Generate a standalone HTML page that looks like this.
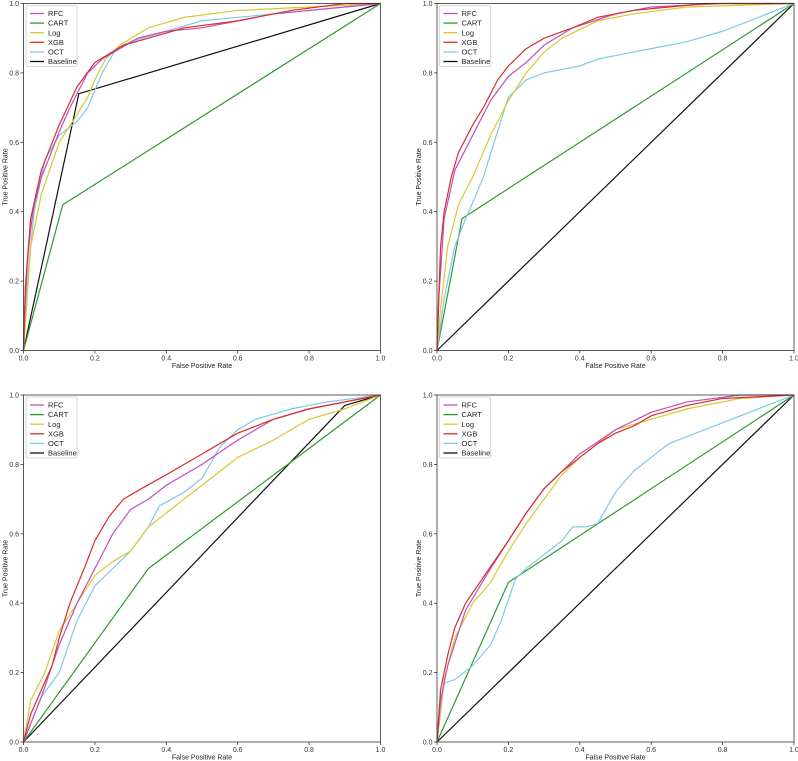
<!DOCTYPE html>
<html><head><meta charset="utf-8"><style>
html,body{margin:0;padding:0;background:#fff;}
svg{display:block;font-family:"Liberation Sans","DejaVu Sans",sans-serif;}
</style></head><body>
<svg id="chart" width="798" height="761" viewBox="0 0 798 761" xmlns="http://www.w3.org/2000/svg"></svg>
<script>
const seriesNames = ["RFC","CART","Log","XGB","OCT","Baseline"];
const seriesColors = ["#c04ec0","#2e9a2e","#d8c830","#d62e2e","#80c8e8","#111111"];
const tickValues = [0,0.2,0.4,0.6,0.8,1.0];
const tickLabels = ["0.0","0.2","0.4","0.6","0.8","1.0"];

// Panel 1 (top-left)
const p1RFC = [[0,0],[0.005,0.15],[0.01,0.25],[0.02,0.35],[0.03,0.42],[0.05,0.5],[0.07,0.55],[0.1,0.63],[0.13,0.7],[0.15,0.74],[0.18,0.8],[0.22,0.84],[0.27,0.87],[0.32,0.9],[0.4,0.92],[0.5,0.93],[0.6,0.95],[0.7,0.97],[0.8,0.98],[0.9,0.99],[1,1]];
const p1CART = [[0,0],[0.11,0.42],[1,1]];
const p1Log = [[0,0],[0.02,0.3],[0.05,0.45],[0.1,0.6],[0.15,0.68],[0.18,0.73],[0.2,0.78],[0.23,0.84],[0.27,0.88],[0.35,0.93],[0.45,0.96],[0.6,0.98],[0.8,0.99],[1,1]];
const p1XGB = [[0,0],[0.005,0.18],[0.02,0.38],[0.05,0.52],[0.1,0.65],[0.15,0.76],[0.2,0.83],[0.28,0.88],[0.35,0.9],[0.45,0.93],[0.6,0.95],[0.75,0.98],[0.9,1],[1,1]];
const p1OCT = [[0,0],[0.01,0.2],[0.03,0.4],[0.06,0.55],[0.1,0.62],[0.15,0.66],[0.18,0.7],[0.22,0.8],[0.26,0.87],[0.3,0.89],[0.4,0.92],[0.5,0.95],[0.7,0.97],[1,1]];
const p1Base = [[0,0],[0.155,0.74],[1,1]];

// Panel 2 (top-right)
const p2RFC = [[0,0],[0.005,0.15],[0.02,0.38],[0.05,0.52],[0.1,0.62],[0.15,0.72],[0.2,0.79],[0.25,0.83],[0.3,0.88],[0.38,0.93],[0.5,0.97],[0.6,0.99],[0.8,1],[1,1]];
const p2CART = [[0,0],[0.07,0.38],[1,1]];
const p2Log = [[0,0],[0.01,0.12],[0.03,0.3],[0.06,0.42],[0.1,0.5],[0.15,0.62],[0.2,0.72],[0.25,0.8],[0.3,0.86],[0.35,0.9],[0.45,0.95],[0.55,0.97],[0.7,0.99],[1,1]];
const p2XGB = [[0,0],[0.005,0.15],[0.01,0.3],[0.02,0.4],[0.04,0.5],[0.06,0.57],[0.1,0.65],[0.13,0.7],[0.17,0.78],[0.2,0.82],[0.25,0.87],[0.3,0.9],[0.38,0.93],[0.45,0.96],[0.55,0.98],[0.65,0.99],[0.75,1],[1,1]];
const p2OCT = [[0,0],[0.02,0.15],[0.05,0.3],[0.08,0.38],[0.11,0.45],[0.13,0.5],[0.16,0.6],[0.2,0.73],[0.25,0.78],[0.3,0.8],[0.4,0.82],[0.45,0.84],[0.5,0.85],[0.6,0.87],[0.7,0.89],[0.8,0.92],[0.9,0.96],[1,1]];
const p2Base = [[0,0],[1,1]];

// Panel 3 (bottom-left)
const p3RFC = [[0,0],[0.05,0.13],[0.1,0.28],[0.15,0.4],[0.2,0.5],[0.25,0.6],[0.3,0.67],[0.35,0.7],[0.4,0.74],[0.5,0.8],[0.6,0.87],[0.7,0.93],[0.8,0.96],[0.9,0.98],[1,1]];
const p3CART = [[0,0],[0.35,0.5],[1,1]];
const p3Log = [[0,0],[0.02,0.12],[0.06,0.2],[0.1,0.32],[0.15,0.4],[0.2,0.48],[0.25,0.52],[0.3,0.55],[0.35,0.62],[0.4,0.66],[0.45,0.7],[0.5,0.74],[0.55,0.78],[0.6,0.82],[0.7,0.87],[0.8,0.93],[0.9,0.96],[1,1]];
const p3XGB = [[0,0],[0.02,0.08],[0.05,0.15],[0.08,0.22],[0.1,0.3],[0.13,0.4],[0.17,0.5],[0.2,0.58],[0.24,0.65],[0.28,0.7],[0.33,0.73],[0.4,0.77],[0.45,0.8],[0.5,0.83],[0.55,0.86],[0.6,0.89],[0.7,0.93],[0.8,0.96],[0.9,0.98],[1,1]];
const p3OCT = [[0,0],[0.05,0.13],[0.1,0.2],[0.15,0.35],[0.2,0.45],[0.25,0.5],[0.3,0.55],[0.35,0.62],[0.38,0.68],[0.45,0.72],[0.5,0.76],[0.55,0.85],[0.6,0.9],[0.65,0.93],[0.75,0.96],[0.85,0.98],[1,1]];
const p3Base = [[0,0],[0.9,0.97],[1,1]];

// Panel 4 (bottom-right)
const p4RFC = [[0,0],[0.01,0.12],[0.03,0.22],[0.08,0.38],[0.15,0.5],[0.2,0.58],[0.25,0.66],[0.3,0.73],[0.4,0.83],[0.5,0.9],[0.6,0.95],[0.7,0.98],[0.85,1],[1,1]];
const p4CART = [[0,0],[0.2,0.46],[1,1]];
const p4Log = [[0,0],[0.02,0.18],[0.05,0.3],[0.1,0.4],[0.15,0.46],[0.2,0.55],[0.25,0.63],[0.3,0.7],[0.35,0.77],[0.4,0.82],[0.5,0.9],[0.6,0.93],[0.7,0.96],[0.85,0.99],[1,1]];
const p4XGB = [[0,0],[0.01,0.15],[0.03,0.25],[0.05,0.33],[0.08,0.4],[0.12,0.46],[0.16,0.52],[0.2,0.58],[0.25,0.66],[0.3,0.73],[0.35,0.78],[0.4,0.82],[0.45,0.86],[0.5,0.89],[0.55,0.91],[0.6,0.94],[0.7,0.97],[0.8,0.99],[1,1]];
const p4OCT = [[0,0],[0.02,0.17],[0.05,0.18],[0.1,0.22],[0.15,0.28],[0.18,0.35],[0.22,0.47],[0.25,0.5],[0.3,0.54],[0.35,0.58],[0.38,0.62],[0.42,0.62],[0.45,0.63],[0.5,0.72],[0.55,0.78],[0.6,0.82],[0.65,0.86],[0.75,0.9],[0.85,0.94],[1,1]];
const p4Base = [[0,0],[1,1]];

const panels = [
  {name:"top-left", x0:23.5, x1:380.5, y0:3.5, y1:350.5, series:[p1RFC,p1CART,p1Log,p1XGB,p1OCT,p1Base]},
  {name:"top-right", x0:437, x1:794, y0:3.5, y1:350.5, series:[p2RFC,p2CART,p2Log,p2XGB,p2OCT,p2Base]},
  {name:"bottom-left", x0:23.5, x1:380.5, y0:395, y1:742, series:[p3RFC,p3CART,p3Log,p3XGB,p3OCT,p3Base]},
  {name:"bottom-right", x0:437, x1:794, y0:395, y1:742, series:[p4RFC,p4CART,p4Log,p4XGB,p4OCT,p4Base]}
];
const drawOrder = [5,1,4,2,0,3];
const svg = document.getElementById('chart');
const NS = "http://www.w3.org/2000/svg";
function mk(tag, attrs, parent){
  const e = document.createElementNS(NS, tag);
  for (const k in attrs) e.setAttribute(k, attrs[k]);
  parent.appendChild(e);
  return e;
}
panels.forEach(p => {
  const g = mk('g', {}, svg);
  
  
  const sx = v => p.x0 + v * (p.x1 - p.x0);
  const sy = v => p.y1 - v * (p.y1 - p.y0);
  drawOrder.forEach(i => {
    const pts = p.series[i].map(d => sx(d[0]).toFixed(2) + ',' + sy(d[1]).toFixed(2)).join(' ');
    const pl = mk('polyline', {points: pts, fill: 'none', stroke: seriesColors[i], 'stroke-width': 1.2, 'stroke-linejoin': 'round'}, g);
    
    
  });
  const frame = mk('rect', {x: p.x0, y: p.y0, width: p.x1 - p.x0, height: p.y1 - p.y0, fill: 'none', stroke: '#333', 'stroke-width': 0.8}, g);
  
  
  tickValues.forEach((t, k) => {
    const x = sx(t), y = sy(t);
    mk('line', {x1: x, x2: x, y1: p.y1, y2: p.y1 + 3, stroke: '#333', 'stroke-width': 0.8}, g);
    const tx = mk('text', {x: x, y: p.y1 + 10, 'font-size': 7, 'text-anchor': 'middle', fill: '#333'}, g);
    tx.textContent = tickLabels[k];
    
    
    mk('line', {x1: p.x0 - 3, x2: p.x0, y1: y, y2: y, stroke: '#333', 'stroke-width': 0.8}, g);
    const ty = mk('text', {x: p.x0 - 4.5, y: y + 2.5, 'font-size': 7, 'text-anchor': 'end', fill: '#333'}, g);
    ty.textContent = tickLabels[k];
    
    
  });
  const xl = mk('text', {x: (p.x0 + p.x1) / 2, y: p.y1 + 17.5, 'font-size': 7, 'text-anchor': 'middle', fill: '#222'}, g);
  xl.textContent = 'False Positive Rate';
  
  
  const cy = (p.y0 + p.y1) / 2, cx = p.x0 - 16;
  const yl = mk('text', {x: cx, y: cy, 'font-size': 7, 'text-anchor': 'middle', fill: '#222', transform: 'rotate(-90 ' + cx + ' ' + cy + ')'}, g);
  yl.textContent = 'True Positive Rate';
  
  
  const lg = mk('g', {}, g);
  
  
  mk('rect', {x: p.x0 + 2.5, y: p.y0 + 2, width: 51, height: 61, fill: '#fff', 'fill-opacity': 0.85, stroke: '#ccc', 'stroke-width': 0.8, rx: 2}, lg);
  seriesNames.forEach((n, i) => {
    const ey = p.y0 + 10 + i * 9.6;
    const e = mk('g', {}, lg);
    
    
    mk('line', {x1: p.x0 + 6.5, x2: p.x0 + 20.5, y1: ey, y2: ey, stroke: seriesColors[i], 'stroke-width': 1.3}, e);
    const t = mk('text', {x: p.x0 + 24.5, y: ey + 2.6, 'font-size': 7.5, fill: '#222'}, e);
    t.textContent = n;
  });
});
</script>
</body></html>
